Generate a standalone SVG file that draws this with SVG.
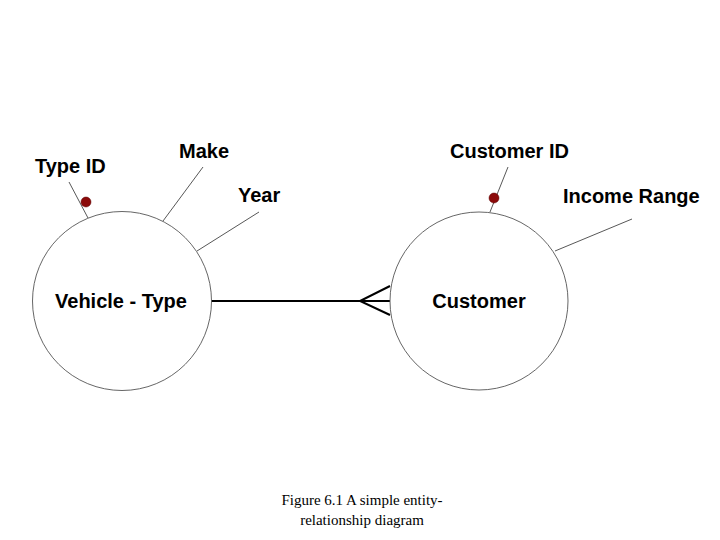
<svg xmlns="http://www.w3.org/2000/svg" width="720" height="540" viewBox="0 0 720 540">
<style>
.ent{fill:#fff;stroke:#555;stroke-width:0.9}
.attr{stroke:#444;stroke-width:0.9;fill:none}
.lbl{font-family:"Liberation Sans",Arial,sans-serif;font-weight:bold;font-size:20px;fill:#000}
.key{fill:#8b0a0a;stroke:#5a0000;stroke-width:0.5}
.rel{stroke:#000;stroke-width:2;fill:none}
.cap{font-family:"Liberation Serif","Times New Roman",serif;font-size:15px;fill:#000}
</style>
<rect width="720" height="540" fill="#fff"/>
<g id="connectors">
<line class="rel" x1="211" y1="301" x2="390" y2="301"/>
<polyline class="rel" points="390,286 360,301 390,315"/>
</g>
<g id="vehicle-type">
<circle class="ent" cx="122" cy="301" r="89.5"/>
<text class="lbl" x="121" y="308" text-anchor="middle">Vehicle - Type</text>
</g>
<g id="type-id">
<line class="attr" x1="69" y1="182" x2="88" y2="218"/>
<circle class="key" cx="86" cy="202" r="5"/>
<text class="lbl" x="35" y="173">Type ID</text>
</g>
<g id="make">
<line class="attr" x1="203" y1="167" x2="163" y2="221"/>
<text class="lbl" x="179" y="158">Make</text>
</g>
<g id="year">
<line class="attr" x1="259" y1="212" x2="197" y2="251"/>
<text class="lbl" x="238" y="202">Year</text>
</g>
<g id="customer">
<circle class="ent" cx="479" cy="301" r="89"/>
<text class="lbl" x="479" y="308" text-anchor="middle">Customer</text>
</g>
<g id="customer-id">
<line class="attr" x1="508" y1="167" x2="490" y2="212"/>
<circle class="key" cx="494" cy="198" r="5"/>
<text class="lbl" x="450" y="158">Customer ID</text>
</g>
<g id="income-range">
<line class="attr" x1="632" y1="219" x2="555" y2="251"/>
<text class="lbl" x="563" y="203">Income Range</text>
</g>
<g id="caption">
<text class="cap" x="362" y="505" text-anchor="middle">Figure 6.1 A simple entity-</text>
<text class="cap" x="362" y="525" text-anchor="middle">relationship diagram</text>
</g>
</svg>
